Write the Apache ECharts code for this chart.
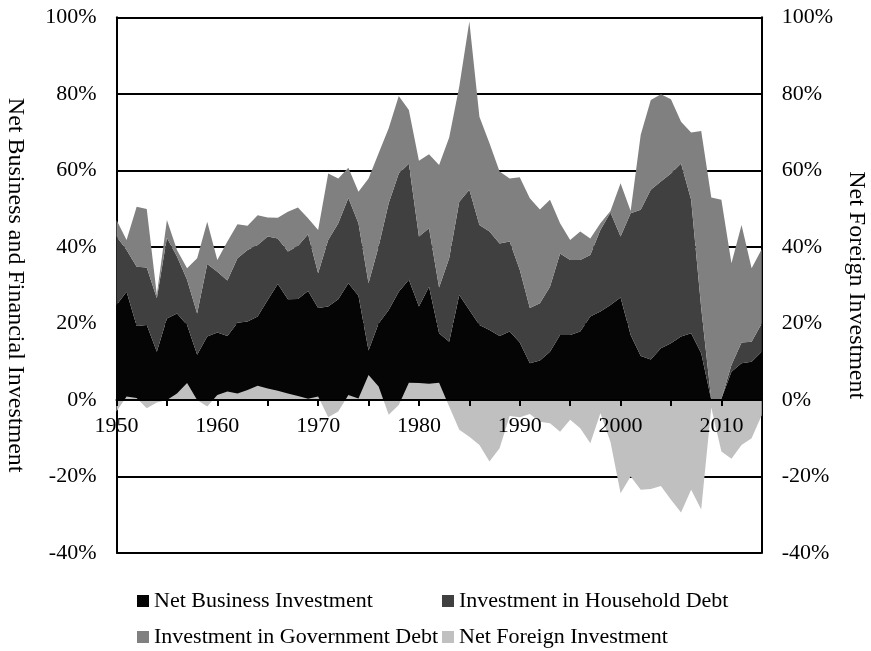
<!DOCTYPE html>
<html><head><meta charset="utf-8">
<script src="https://cdn.jsdelivr.net/npm/echarts@6/dist/echarts.min.js"></script>
<style>html,body{margin:0;padding:0;background:#fff}#c{width:871px;height:651px}</style>
</head><body><div id="c"></div>
<script>
const years = ['1950','1951','1952','1953','1954','1955','1956','1957','1958','1959',
'1960','1961','1962','1963','1964','1965','1966','1967','1968','1969',
'1970','1971','1972','1973','1974','1975','1976','1977','1978','1979',
'1980','1981','1982','1983','1984','1985','1986','1987','1988','1989',
'1990','1991','1992','1993','1994','1995','1996','1997','1998','1999',
'2000','2001','2002','2003','2004','2005','2006','2007','2008','2009',
'2010','2011','2012','2013','2014'];
const netBusiness = [24.8,28.3,19.3,19.6,12.6,21.3,22.6,19.6,11.8,16.6,
17.6,16.7,20.2,20.5,21.8,26.1,30.3,26.3,26.4,28.5,
24.0,24.4,26.3,30.5,27.2,12.9,20.0,23.5,28.3,31.4,
24.4,29.6,17.4,15.2,27.4,23.5,19.6,18.3,16.7,17.9,
15.0,9.6,10.3,12.6,17.0,17.0,17.9,21.8,23.1,24.8,
26.8,17.0,11.5,10.6,13.5,14.8,16.6,17.4,12.2,0,
0.3,7.4,9.6,10.0,12.6];
const householdDebt = [17.9,10.9,15.5,15.0,14.0,21.1,14.9,11.8,10.8,18.9,
15.9,14.5,16.8,18.7,18.7,16.6,11.9,12.5,13.8,14.8,
9.1,17.4,19.9,22.3,19.0,17.6,20.1,27.9,30.9,30.3,
18.3,15.3,12.0,21.8,24.4,31.4,26.1,25.7,24.2,23.5,
19.0,14.4,15.0,17.0,21.3,19.6,18.7,16.1,21.3,24.2,
15.9,31.8,38.2,44.3,43.6,44.4,45.2,34.9,11.8,0,
0,1.7,5.4,5.2,7.4];
const governmentDebt = [4.3,2.6,15.7,15.3,0.9,4.6,1.7,3.0,14.4,11.1,
3.1,10.2,8.9,6.3,7.8,5.0,5.4,10.4,10.1,4.2,
11.3,17.4,11.7,7.9,8.2,27.4,24.4,19.6,20.2,14.1,
19.8,19.3,32.0,31.6,30.1,44.0,28.3,23.1,18.8,16.5,
24.2,28.7,24.5,22.7,7.9,5.2,7.4,4.3,1.8,0.4,
13.9,0.6,19.6,23.5,22.8,19.4,10.9,17.6,46.3,52.9,
52.0,26.6,30.7,19.2,19.4];
const netForeign = [-3.0,0.9,0.5,-2.2,-0.7,0,1.7,4.4,0,-1.7,
1.3,2.2,1.7,2.6,3.7,3.0,2.4,1.7,1.0,0.3,
0.9,-4.5,-3.0,1.3,0.4,6.5,3.5,-3.9,-1.3,4.5,
4.4,4.2,4.5,-1.7,-7.8,-9.6,-11.8,-16.1,-12.6,-4.2,
-4.5,-3.7,-5.7,-6.1,-8.3,-5.2,-7.4,-11.3,-3.5,-11.0,
-24.4,-20.0,-23.5,-23.3,-22.5,-26.1,-29.4,-23.5,-28.6,-2.0,
-13.5,-15.4,-11.8,-10.0,-4.0];
const yMin = -40, yMax = 100, yStep = 20;

const FONT = "'Liberation Serif','Times New Roman',serif";
const W = 871, H = 651;
const gridL = 116.5, gridR = 109.3, gridT = 17.3, gridB = 98;
const plotH = H - gridT - gridB;
// distance of the zero line above the bottom of the plot (value axis scale)
const zeroOffset = plotH * (0 - yMin) / (yMax - yMin);

const chart = echarts.init(document.getElementById('c'));
function areaSeries(name, data, color, stack, yIdx) {
  const s = {name, type:'line', data, symbol:'none', showSymbol:false, yAxisIndex:yIdx,
    lineStyle:{width:0}, itemStyle:{color}, areaStyle:{color, opacity:1}, animation:false};
  if (stack) s.stack = stack;
  return s;
}
function legendItem(name, left, top) {
  return {orient:'horizontal', left, top, itemWidth:12, itemHeight:12, icon:'rect', padding:0,
    textStyle:{color:'#000', fontFamily:FONT, fontSize:22, lineHeight:24}, data:[name]};
}
const yAxisBase = {type:'value', min:yMin, max:yMax, interval:yStep,
  axisLine:{show:true, lineStyle:{color:'#000', width:2}},
  axisTick:{show:false},
  axisLabel:{formatter:'{value}%', color:'#000', fontFamily:FONT, fontSize:22, margin:20},
  nameLocation:'middle', nameRotate:-90,
  nameTextStyle:{color:'#000', fontFamily:FONT, fontSize:24}};
chart.setOption({
  animation:false,
  backgroundColor:'#fff',
  grid:{left:gridL, right:gridR, top:gridT, bottom:gridB, containLabel:false, outerBoundsMode:'none'},
  xAxis:{type:'category', data:years, boundaryGap:false, z:10, position:'bottom', offset:-zeroOffset,
    axisLine:{onZero:false, lineStyle:{color:'#000', width:2}},
    axisTick:{show:true, length:6, interval:(i)=>i%5===0, lineStyle:{color:'#000', width:2}},
    axisLabel:{interval:(i)=>i%10===0, color:'#000', fontFamily:FONT, fontSize:22, margin:15},
    splitLine:{show:false}},
  yAxis:[
    Object.assign({}, yAxisBase, {position:'left', name:'Net Business and Financial Investment', nameGap:89,
      splitLine:{show:true, lineStyle:{color:'#000', width:2}}}),
    Object.assign({}, yAxisBase, {position:'right', name:'Net Foreign Investment', nameGap:83,
      splitLine:{show:false}})
  ],
  legend:[
    legendItem('Net Business Investment', 137, 589),
    legendItem('Investment in Household Debt', 442, 589),
    legendItem('Investment in Government Debt', 137, 625),
    legendItem('Net Foreign Investment', 442, 625)
  ],
  series:[
    areaSeries('Net Business Investment', netBusiness, '#050505', 'total', 0),
    areaSeries('Investment in Household Debt', householdDebt, '#404040', 'total', 0),
    areaSeries('Investment in Government Debt', governmentDebt, '#808080', 'total', 0),
    areaSeries('Net Foreign Investment', netForeign, '#c0c0c0', null, 1)
  ]
});
</script></body></html>
